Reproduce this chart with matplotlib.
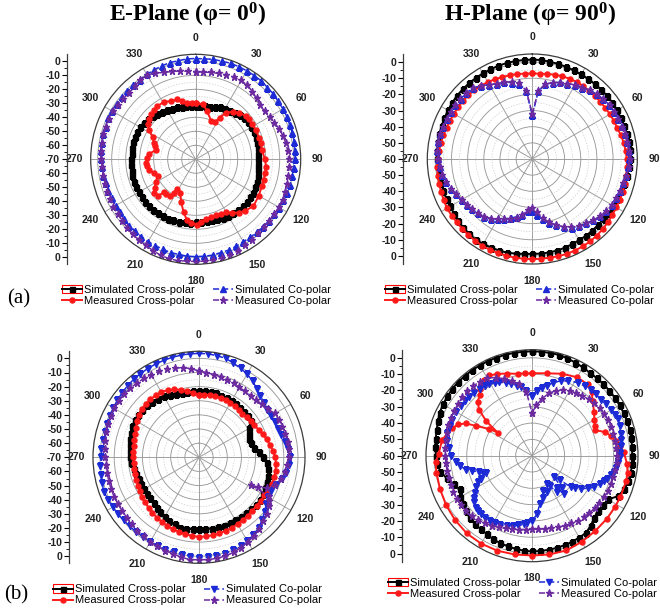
import numpy as np
import matplotlib
matplotlib.use('Agg')
import matplotlib.pyplot as plt
from matplotlib.legend_handler import HandlerLine2D
from matplotlib.patches import Rectangle

plt.rcParams['font.family'] = ['Liberation Sans', 'DejaVu Sans']
plt.rcParams['mathtext.fontset'] = 'custom'
plt.rcParams['mathtext.rm'] = 'Liberation Serif'
plt.rcParams['mathtext.bf'] = 'Liberation Serif:bold'
plt.rcParams['mathtext.it'] = 'Liberation Serif:italic'

W, H = 660, 611
fig = plt.figure(figsize=(W / 100, H / 100), dpi=100)

# ---------------- data ----------------
ANG5 = np.arange(0, 360, 5)
TICK_ANGLES = list(range(0, 360, 30))
TITLES = ['E-Plane (φ= 0$^{\\mathbf{0}}$)', 'H-Plane (φ= 90$^{\\mathbf{0}}$)']
LABELS = ['Simulated Cross-polar', 'Measured Cross-polar', 'Simulated Co-polar', 'Measured Co-polar']

# (a) E-plane
a_e_sim_cross = [-32, -32, -31.5, -31, -30, -29, -28.5, -27.5, -26.5, -25.5, -24.5, -24,
                 -24, -24, -24.5, -25, -25, -25.5, -25.5, -25, -24.5, -24, -23.5, -23,
                 -22.5, -22.5, -22.5, -22.5, -22.5, -23, -23.5, -24, -24.5, -25, -25, -25,
                 -25, -24.5, -24.5, -24, -23.5, -23, -23, -23, -23, -23, -23, -23,
                 -23, -23, -23, -23, -23.5, -23.5, -24, -24, -23.5, -23.5, -23.5, -24,
                 -24, -24.5, -25.5, -26.5, -27.5, -28.5, -29, -30, -30.5, -31, -31.5, -32]
a_e_meas_cross_ang = [0, 8, 13, 22, 27, 30, 33, 38, 43, 49, 53, 58, 64, 71, 76, 82, 90, 96, 101, 107,
                      112, 120, 129, 136, 141, 146, 150, 155, 160, 165, 170, 175, 179, 184, 188, 193, 199, 205, 212, 213,
                      215, 220, 224, 226, 231, 235, 240, 246, 252, 257, 262, 266, 272, 277, 283, 288, 291, 297, 302, 306,
                      311, 315, 320, 324, 331, 337, 343, 347, 351, 356]
a_e_meas_cross = [-29.7, -30.4, -34.6, -40.3, -40.4, -35.7, -30.2, -27, -24.5, -22.7,
                  -22.5, -22.4, -22.3, -22.2, -22.2, -22.2, -20.5, -19.5, -19.4, -19.2,
                  -19, -18, -16.9, -19, -21, -24, -26.4, -27, -27.3, -27,
                  -26.9, -25, -23.4, -24.5, -25.9, -31.3, -38, -43.8, -44.8, -41.6,
                  -38.3, -37.5, -37.2, -32.2, -32, -34.5, -36.9, -40.2, -38.8, -36,
                  -35, -34.5, -35.5, -36.6, -40.8, -39.5, -38.3, -35.4, -31, -27.5,
                  -26, -24.7, -24, -23.2, -23.1, -24.8, -25.3, -27, -29.2, -29.5]
a_e_sim_co = [2, 2, 2.5, 2.5, 3, 3, 3, 3, 3, 2.5, 2.5, 2,
              2, 2, 1.5, 1.5, 1.5, 1, 1, 0.5, 0, 0, -0.5, -1,
              -1, -1.5, -1.5, -2, -2, -2, -2, -1.5, -1, -1, -0.5, -0.5,
              -0.5, -0.5, -1, -1, -1.5, -2, -2, -2.5, -3, -3, -3.5, -4,
              -4, -4, -3.5, -3.5, -3, -3, -2.5, -2, -2, -1.5, -1.5, -1,
              -1, -1, -1, -1, -0.5, -0.5, 0, 0.5, 1, 1.5, 1.5, 2]
a_e_meas_co = [-7.5, -7.5, -7, -6.5, -6, -5.5, -5, -5.5, -7, -8.5, -10, -10,
               -9, -8, -6.5, -5.5, -4.5, -4, -3.5, -3, -3, -2.5, -2, -1.5,
               -1.5, -1.5, -1.5, -1.5, -1, 0, 1, 2, 2.5, 3, 3, 3,
               3, 3, 3.5, 3.5, 3, 2, 1, 0.5, 0, -1, -1.5, -2,
               -2, -2.5, -2.5, -3, -3, -3, -2.5, -2, -2, -1.5, -1.5, -1.5,
               -1.5, -2, -2.5, -3, -2, -1, -0.5, -2, -4, -5, -6, -7]

# (a) H-plane
a_h_sim_cross = [1.5, 1.5, 1.2, 1, 0.8, 0.6, 0.5, 0.5, 0.5, 0.5, 0.6, 0.6,
                 0.5, 0.5, 0.5, 0.5, 0.5, 0.5, 0.5, 0, -0.5, -1, -1.5, -2,
                 -2, -2.2, -2.4, -2.3, -2.2, -2, -2, -1.8, -1.5, -1.3, -1.2, -1.2,
                 -1.2, -1, -0.5, 0, 0.3, 0.5, 0.8, 1, 0.8, 0.3, -0.3, -1,
                 -1.3, -1.4, -1.5, -1.5, -1.5, -1.4, -1.2, -1, -0.8, -0.5, -0.3, 0,
                 0.3, 0.6, 0.9, 1, 1.1, 1.2, 1.2, 1.3, 1.4, 1.5, 1.5, 1.5]
a_h_meas_cross = [-7, -7, -6.5, -6, -5.5, -5.2, -5, -5, -5, -5, -5, -4.8,
                  -4.5, -4.2, -4, -3.2, -2.5, -2, -1.5, -1.2, -1, -0.8, -0.5, -0.2,
                  0, 0.5, 1, 1.5, 2, 2.3, 2.5, 2.5, 2.5, 2.3, 2, 2,
                  2, 2, 2, 2, 2, 2, 2, 1.8, 1.5, 1.3, 1, 1,
                  1, 0.5, 0, -0.3, -0.5, -1, -1.5, -2, -2.5, -3, -3.5, -3.8,
                  -4, -4, -4, -4, -4.3, -4.5, -5, -5.5, -6, -6.3, -6.5, -7]
a_h_sim_co = [-33, -18, -13, -11, -9.5, -8.5, -7, -6, -4.5, -3.5, -2.5, -1.8,
              -1.5, -1.3, -1, -0.7, -0.3, 0, 0, -0.3, -1, -1.8, -2.2, -2.5,
              -3, -4, -5, -6.5, -8, -9.5, -11, -13.5, -16.5, -19, -22, -25.5,
              -28, -27.5, -25, -23, -21, -19, -17, -15, -13.5, -12.5, -11.5, -10.5,
              -9.5, -8, -6.5, -5, -3.5, -2.5, -1.5, -1, -0.5, -0.8, -1.3, -1.8,
              -1.8, -1.8, -2, -2.2, -2.8, -4.5, -7, -8.5, -9.5, -11, -13, -18]
a_h_meas_co = [-32, -17.5, -13, -11, -10, -8.5, -7, -6, -4.5, -3.5, -2.5, -1.5,
               -1.5, -1.3, -1.2, -0.8, -0.4, 0, 0.3, 0, -0.8, -1.8, -2.3, -2.5,
               -3, -4, -5, -6.5, -8, -9.7, -11.5, -13.5, -16.5, -19.5, -23, -27,
               -29.5, -28, -24.5, -22.5, -20.5, -19, -17, -15, -13.5, -12.5, -11.5, -10.5,
               -9.5, -8, -6.5, -5, -3.5, -2.5, -1.5, -1, -0.7, -1, -1.5, -1.8,
               -1.7, -1.6, -1.8, -2.2, -2.8, -4.5, -7, -8.5, -9.5, -10.5, -12.5, -17.5]

# (b) E-plane
b_e_sim_cross = [-23, -23, -23, -23, -23.5, -23.5, -24, -24.2, -24.5, -24.8, -25, -25,
                 -29, -31, -32.3, -32, -30.3, -27.5, -24.5, -22, -20.5, -19.4, -18.8, -18.2,
                 -17.6, -17.3, -17.5, -18, -18.5, -18.6, -18.6, -18.6, -18.6, -18.6, -18.8, -19,
                 -19.3, -19, -18.6, -18.5, -19.5, -20.4, -21.5, -22.5, -23.5, -24.5, -25, -25.3,
                 -25.2, -25, -24.5, -23.5, -23, -22, -21, -21, -20.5, -19.5, -19, -18,
                 -17.5, -17.4, -17.6, -18, -18.5, -19.5, -20, -21, -22, -22.8, -23, -23]
b_e_meas_cross = [-25.6, -25.5, -25.4, -25.3, -25.4, -25.5, -25.6, -26, -26.3, -26.5, -26, -25.5,
                  -24.8, -23.5, -22, -20.5, -19, -17.5, -16, -15.4, -15, -14.9, -15, -15.5,
                  -16.5, -16.6, -16.8, -16.5, -16.2, -15.8, -15.5, -15, -14.7, -14.3, -14, -13.8,
                  -13.7, -14.2, -14.7, -15.3, -16, -16.6, -17.3, -18, -18.7, -19.5, -20.3, -21,
                  -21.8, -22.3, -22.8, -23.3, -23.5, -23.6, -23.6, -23.3, -23, -22.5, -22, -21,
                  -19, -18, -17.2, -16.5, -16.3, -16.5, -16.7, -17.5, -18.9, -20.5, -22.4, -24.5]
b_e_sim_co = [3.5, 3.5, 3, 2.5, 1, -0.5, -2, -4, -6.5, -8.5, -10, -11.5,
              -11.5, -11, -10.5, -10, -8, -6.5, -5.5, -6, -7.5, -9.5, -12, -14,
              -14, -12, -9.5, -7, -4.5, -3, -1.5, -0.5, 0, 0.5, 1, 1,
              1, 0.5, 0, -0.5, -0.5, -1, -1, -1.2, -1, -0.8, -0.5, 0,
              0.5, 1, 1.5, 1, 0.5, 0, -0.5, -0.7, -0.8, -0.9, -0.5, -0.2,
              0, 0.5, 1, 1.5, 2, 2.3, 2.5, 2.8, 3, 3.2, 3.4, 3.5]
b_e_meas_co_ang = [0, 5, 10, 15, 20, 25, 30, 35, 40, 45, 50, 55, 60, 65, 70, 75, 80, 85, 90, 95, 100, 105, 110,
                   114, 117, 118, 119, 122,
                   125, 130, 135, 140, 145, 150, 155, 160, 165, 170, 175, 180, 185, 190, 195, 200, 205, 210,
                   215, 220, 225, 230, 235, 240, 245, 250, 255, 260, 265, 270, 275, 280, 285, 290, 295, 300,
                   305, 310, 315, 320, 325, 330, 335, 340, 345, 350, 355]
b_e_meas_co = [-9, -9.8, -10.6, -11, -11.6, -12.2, -12.9, -13, -13, -12.8, -11.5, -10.6,
               -8, -7.5, -7.2, -6.8, -6.4, -6.4, -6.4, -7.5, -8.5, -10, -13,
               -17, -23, -28.7, -13.5, -11.5,
               -9.8, -7.5, -5.8, -3.8, -2.2, -0.8, 0.5, 1.6, 2.3, 2.6,
               2.7, 2.5, 2.7, 1.8, 0.8, 0.2, -0.4, -1, -1.7, -2.3,
               -2.9, -3.5, -3.7, -3.8, -3.8, -3.9, -4, -4, -4, -3.8,
               -3.4, -2.8, -2.1, -1.7, -1.3, -0.9, -0.6, -0.8, -1, -1.5,
               -1.9, -2.4, -2.9, -3.8, -4.6, -5.6, -7]

# (b) H-plane
b_h_sim_cross = [4, 4, 4, 4, 3.5, 3, 2.5, 2, 2, 2, 2, 2,
                 2, 2, 2, 2, 1.8, 1.6, 1.5, 1.5, 1.5, 1, 0, -1.5,
                 -6.3, -7, -7.5, -6, -4, -2.3, -2, -1.8, -1.6, -1.5, -1.4, -1.3,
                 -1.3, -1.5, -2, -2.5, -3, -3.5, -4.5, -5, -5.5, -6, -7, -8.5,
                 -9.3, -11, -9, -6, -3, -1.8, -1.3, -0.5, 0, 0.5, 1.5, 2.5,
                 3, 3.4, 3.8, 4, 4, 4, 4, 4, 4, 4, 4, 4]
b_h_meas_cross_ang = [0, 10, 20, 30, 38, 43, 48, 55, 60, 65, 68, 72, 76, 80, 84, 88, 95, 100, 105, 115,
                      122, 130, 140, 150, 160, 170, 180, 190, 200, 210, 220, 230, 240, 250, 260, 266, 271, 280, 289, 293,
                      296, 298, 302, 304, 307, 311, 315, 319, 322, 325, 328, 332, 337, 343, 350, 355]
b_h_meas_cross = [-9.4, -8.7, -6.5, -4.5, -4.5, -6.5, -9.8, -13.6, -15.8, -17.5,
                  -18.2, -13, -10, -8, -6, -3.6, -1.5, -0.5, -0.2, -0.2,
                  -0.2, 0, 0.3, 1, 1.8, 1.5, 1.2, 1.5, 2, 2.3,
                  2.2, 1.5, 0.8, 0, -0.5, -0.7, -2.7, -4, -8.1, -11,
                  -14.8, -21, -29, -34.6, -25, -16.9, -13, -11, -8, -6,
                  -5, -4.3, -5.5, -7.3, -9, -9.3]
b_h_sim_co_ang = [0, 4, 8, 12, 16, 21, 26, 32, 37, 42, 46, 51, 55, 60, 64, 67, 71, 76, 80, 84,
                  88, 91, 95, 98, 101, 104, 107, 109, 113, 117, 120, 124, 127, 129, 131, 134, 137, 140, 143, 146,
                  149, 152, 157, 162, 166, 171, 175, 180, 184, 187, 191, 195, 200, 205, 209, 213, 217, 221, 224, 227,
                  231, 234, 237, 241, 244, 246, 249, 251, 253, 256, 258, 262, 265, 270, 275, 280, 285, 290, 294, 300,
                  305, 309, 313, 317, 322, 326, 329, 333, 336, 340, 344, 348, 351, 355]
b_h_sim_co = [-23.3, -20, -18, -16, -13.5, -10.8, -9, -7.1, -6.5, -6.2,
              -5.8, -5.3, -4.5, -3.8, -3.2, -2.8, -3.2, -3.9, -4.5, -5,
              -5.8, -6.3, -7.2, -7.9, -9, -10, -12, -13.1, -15, -17.3,
              -20, -23.9, -27, -29.5, -37, -41.3, -33, -29.5, -35, -33,
              -38, -40.5, -36, -37.5, -33, -29.9, -24, -20, -18.5, -17.5,
              -16.5, -15.4, -14.3, -13.4, -12.8, -12.2, -12, -12.3, -12.7, -13.2,
              -14.5, -16.3, -18, -20.5, -23, -25.6, -29.7, -28, -26.2, -22,
              -18.5, -15.5, -13, -10.5, -8.8, -7.3, -6.1, -6.2, -6.3, -6.5,
              -6.6, -7, -7.5, -7.7, -7.9, -8.3, -8.8, -9.8, -10.8, -12.5,
              -14.2, -16, -17.6, -20]
b_h_meas_co = [-33.6, -29, -24.5, -20.5, -17.5, -15.5, -14, -13, -12, -11, -10, -9.3,
               -8.8, -8.5, -8.5, -8.5, -8.2, -8, -7.8, -7.7, -8.2, -8.4, -8.6, -8.9,
               -9.2, -9.5, -9.8, -10.3, -10.8, -11.3, -12, -12.7, -13.3, -14, -14.5, -14.7,
               -14.8, -14.5, -14, -13.3, -12.5, -11.5, -10.5, -9.5, -8.5, -7.7, -7.2, -6.9,
               -6.7, -6.8, -7, -7.1, -7.1, -7, -6.9, -6.5, -6.2, -5.8, -5.4, -5.2,
               -5, -4.6, -4.2, -3.9, -4, -4.6, -5.1, -7.1, -9.8, -12.5, -15.5, -21]

# ---------------- styles ----------------
C_BLACK = '#000000'
C_RED = '#ff1a1a'
C_BLUE = '#1c2bd6'
C_PURPLE = '#6b2aa0'
R_MAX = 5


class FramedHandler(HandlerLine2D):
    def create_artists(self, legend, orig_handle, xdescent, ydescent, width, height, fontsize, trans):
        arts = super().create_artists(legend, orig_handle, xdescent, ydescent, width, height, fontsize, trans)
        rect = Rectangle((-xdescent, -ydescent - 0.05 * height), width, height * 1.1,
                         fill=False, ec='red', lw=0.8, transform=trans)
        return [rect] + list(arts)


def closed(ang, vals):
    a = np.append(np.asarray(ang, float), 360.0)
    v = np.append(np.asarray(vals, float), vals[0])
    return np.deg2rad(a), v


def panel(cx, cy, R, rmin, series, tri, leg_xy):
    rect = [(cx - R) / W, (H - cy - R) / H, 2 * R / W, 2 * R / H]
    ax = fig.add_axes(rect, projection='polar')
    ax.set_theta_zero_location('N')
    ax.set_theta_direction(-1)
    ax.set_ylim(rmin, R_MAX)
    ax.set_yticks(np.arange(rmin + 10, 1, 10))
    ax.set_yticks(np.arange(rmin + 5, 1, 10), minor=True)
    ax.set_yticklabels([])
    ax.tick_params(axis='y', which='both', length=0)
    ax.set_thetagrids(TICK_ANGLES, [str(a) for a in TICK_ANGLES], fontsize=7.5, fontweight='bold',
                      color='#222222')
    ax.tick_params(axis='x', pad=1.5)
    ax.grid(True, which='major', color='#999999', lw=0.65, ls='-')
    ax.grid(True, which='minor', axis='y', color='#cccccc', lw=0.5, ls=(0, (2, 2)))
    ax.spines['polar'].set_color('#3c3c3c')
    ax.spines['polar'].set_linewidth(0.9)

    styles = [
        dict(color=C_BLACK, marker='s', ms=3.6, lw=1.4, ls='-'),
        dict(color=C_RED, marker='o', ms=3.6, lw=1.4, ls='-'),
        dict(color=C_BLUE, marker=tri, ms=4.8, lw=1.1, ls=(0, (4, 2))),
        dict(color=C_PURPLE, marker='*', ms=5.2, lw=1.1, ls=(0, (4, 2))),
    ]
    handles = []
    for (ang, vals), st, lab in zip(series, styles, LABELS):
        th, r = closed(ang, vals)
        h, = ax.plot(th, r, label=lab, mec=st['color'], mfc=st['color'], **st)
        handles.append(h)

    # vertical radial scale on the left
    ax2 = fig.add_axes(rect)
    span = R_MAX - rmin
    ax2.set_ylim(-span, span)
    ax2.set_xlim(0, 1)
    ax2.patch.set_alpha(0)
    for s in ['top', 'right', 'bottom']:
        ax2.spines[s].set_visible(False)
    ax2.spines['left'].set_position(('axes', 0.5 - 1.23 / 2))
    ax2.spines['left'].set_color('#3c3c3c')
    ax2.spines['left'].set_linewidth(0.9)
    vals = np.arange(rmin, 1, 10)
    ypos = sorted(set([v - rmin for v in vals] + [-(v - rmin) for v in vals]))
    ylab = [str(int(rmin + abs(y))) for y in ypos]
    ax2.set_yticks(ypos)
    ax2.set_yticklabels(ylab)
    mvals = np.arange(rmin + 5, 1, 10)
    ax2.set_yticks(sorted([v - rmin for v in mvals] + [-(v - rmin) for v in mvals]), minor=True)
    ax2.set_xticks([])
    ax2.tick_params(axis='y', which='major', length=3.5, width=0.8, labelsize=7.5, pad=1.2,
                    direction='out', labelcolor='#222222')
    ax2.tick_params(axis='y', which='minor', length=2, width=0.6, direction='out')
    for t in ax2.get_yticklabels():
        t.set_fontweight('bold')

    fig.legend(handles, LABELS, loc='upper left',
               bbox_to_anchor=(leg_xy[0] / W, 1 - leg_xy[1] / H),
               ncol=2, frameon=False, fontsize=8, handlelength=1.8,
               handletextpad=0.2, columnspacing=1.6, labelspacing=0.08,
               borderpad=0, borderaxespad=0, numpoints=1,
               handler_map={handles[0]: FramedHandler()})
    return ax


panel(195.7, 159.3, 105, -70,
      [(ANG5, a_e_sim_cross), (a_e_meas_cross_ang, a_e_meas_cross),
       (ANG5, a_e_sim_co), (ANG5, a_e_meas_co)], '^', (62, 285))
panel(532.3, 159.0, 105, -60,
      [(ANG5, a_h_sim_cross), (ANG5, a_h_meas_cross),
       (ANG5, a_h_sim_co), (ANG5, a_h_meas_co)], '^', (385, 285))
panel(199.0, 457.3, 106, -70,
      [(ANG5, b_e_sim_cross), (ANG5, b_e_meas_cross),
       (ANG5, b_e_sim_co), (b_e_meas_co_ang, b_e_meas_co)], 'v', (53, 584.5))
panel(532.0, 455.7, 106, -60,
      [(ANG5, b_h_sim_cross), (b_h_meas_cross_ang, b_h_meas_cross),
       (b_h_sim_co_ang, b_h_sim_co), (ANG5, b_h_meas_co)], 'v', (388, 578))

fig.text(188 / W, 1 - 15 / H, TITLES[0], ha='center', va='center', fontsize=17,
         fontweight='bold', family='Liberation Serif')
fig.text(530 / W, 1 - 15 / H, TITLES[1], ha='center', va='center', fontsize=17,
         fontweight='bold', family='Liberation Serif')
fig.text(19 / W, 1 - 299 / H, '(a)', ha='center', va='center', fontsize=15, family='Liberation Serif')
fig.text(16 / W, 1 - 595 / H, '(b)', ha='center', va='center', fontsize=15, family='Liberation Serif')

fig.savefig('out.png', dpi=100)
